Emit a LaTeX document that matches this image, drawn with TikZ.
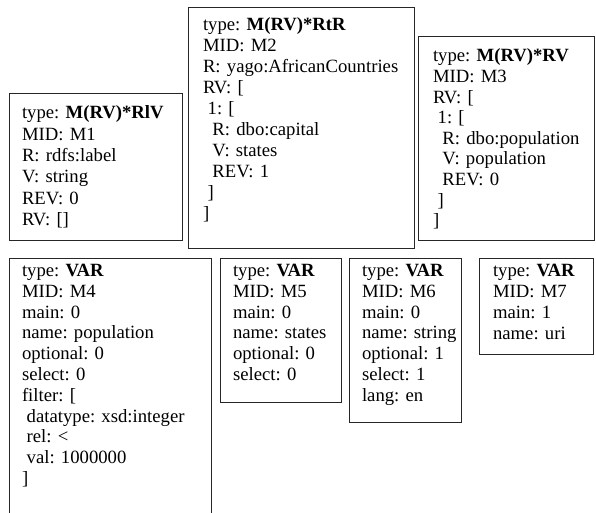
\documentclass[tikz,border=0pt]{standalone}
\usepackage{fontspec}
\setmainfont{Liberation Serif}
\frenchspacing
\tikzset{
  box/.style={draw=black!85, line width=1pt, anchor=north west, inner sep=0pt, outer sep=0pt},
  txt/.style={anchor=base west, inner sep=0pt, outer sep=0pt, text width=230pt, align=left,
              font=\fontsize{18.7}{#1}\selectfont},
  txt/.default=20.8,
}
\newcommand{\ind}[1]{\hspace*{#1}}
\begin{document}
\begin{tikzpicture}[x=1pt,y=-1pt]
\useasboundingbox (0,0) rectangle (596,513);
\clip (0,0) rectangle (596,513);
% boxes
\node[box, minimum width=173pt, minimum height=146pt] (m1) at (9,94) {};
\node[box, minimum width=226pt, minimum height=240pt] (m2) at (188,8) {};
\node[box, minimum width=176pt, minimum height=203pt] (m3) at (418,37) {};
\node[box, minimum width=202pt, minimum height=270pt] (m4) at (9,258) {};
\node[box, minimum width=121pt, minimum height=144pt] (m5) at (220,258) {};
\node[box, minimum width=112pt, minimum height=164pt] (m6) at (349,258) {};
\node[box, minimum width=114pt, minimum height=96pt] (m7) at (479,258) {};
% texts
\node[txt=21.4] (t1) at (22,118.7) {%
type: \textbf{M(RV)*RlV}\\ MID: M1\\ R: rdfs:label\\ V: string\\ REV: 0\\ RV: []};
\node[txt=21.0] (t2) at (203,30.7) {%
type: \textbf{M(RV)*RtR}\\ MID: M2\\ R: yago:AfricanCountries\\ RV: [\\
\ind{4.7pt}1: [\\ \ind{9.4pt}R: dbo:capital\\ \ind{9.4pt}V: states\\ \ind{9.4pt}REV: 1\\ \ind{4.7pt}]\\ ]};
\node[txt=20.6] (t3) at (433,62) {%
type: \textbf{M(RV)*RV}\\ MID: M3\\ RV: [\\
\ind{4.7pt}1: [\\ \ind{9.4pt}R: dbo:population\\ \ind{9.4pt}V: population\\ \ind{9.4pt}REV: 0\\ \ind{4.7pt}]\\ ]};
\node[txt] (t4) at (22,276.5) {%
type: \textbf{VAR}\\ MID: M4\\ main: 0\\ name: population\\ optional: 0\\ select: 0\\ filter: [\\
\ind{4.7pt}datatype: xsd:integer\\ \ind{4.7pt}rel: <\\ \ind{4.7pt}val: 1000000\\ ]};
\node[txt] (t5) at (233,276.5) {%
type: \textbf{VAR}\\ MID: M5\\ main: 0\\ name: states\\ optional: 0\\ select: 0};
\node[txt] (t6) at (362,276.5) {%
type: \textbf{VAR}\\ MID: M6\\ main: 0\\ name: string\\ optional: 1\\ select: 1\\ lang: en};
\node[txt=21] (t7) at (493,276.5) {%
type: \textbf{VAR}\\ MID: M7\\ main: 1\\ name: uri};
\end{tikzpicture}
\end{document}
